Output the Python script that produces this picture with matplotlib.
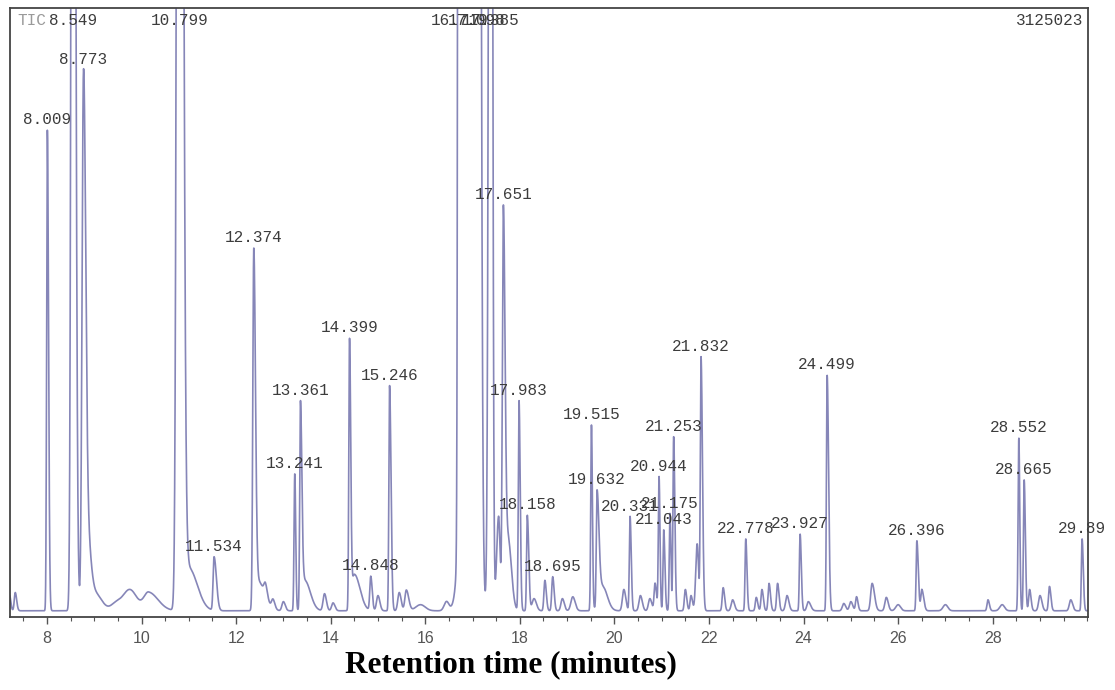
import numpy as np
import matplotlib
matplotlib.use("Agg")
import matplotlib.pyplot as plt
from matplotlib.ticker import MultipleLocator

# peaks: time (min), height (% of full scale),
# left / right width (sigma, min). heights > 100 are off scale.
peak_times = [7.20, 7.33, 8.009, 8.549, 8.773, 8.85, 9.0, 9.45, 9.75, 10.15,
              10.799, 11.0, 11.534, 12.374, 12.45, 12.62, 12.78, 13.0, 13.241, 13.361,
              13.45, 13.87, 14.05, 14.399, 14.5, 14.848, 15.0, 15.246, 15.45, 15.6,
              15.9, 16.45, 16.719, 17.098, 17.385, 17.55, 17.651, 17.75, 17.983, 18.158,
              18.3, 18.53, 18.695, 18.9, 19.12, 19.515, 19.632, 19.75, 20.2, 20.331,
              20.55, 20.75, 20.86, 20.944, 21.043, 21.175, 21.253, 21.5, 21.62, 21.75,
              21.832, 22.3, 22.5, 22.778, 23.0, 23.12, 23.27, 23.45, 23.65, 23.927,
              24.1, 24.499, 24.85, 25.0, 25.12, 25.45, 25.75, 26.0, 26.396, 26.5,
              27.0, 27.9, 28.2, 28.552, 28.665, 28.78, 29.0, 29.2, 29.65, 29.89]
peak_heights = [3.0, 3.0, 79, 300, 85, 12, 3, 1.0, 3.5, 3.0,
                400, 7, 8.8, 58, 5, 2.0, 1.5, 1.5, 22.5, 33.5,
                5, 2.8, 1.3, 44, 6, 5.6, 2.5, 37, 3.0, 3.4,
                1.0, 1.5, 500, 500, 300, 15, 61, 12, 34.5, 15.7,
                2.0, 5.0, 5.6, 2.0, 2.3, 30.5, 18.5, 4, 3.5, 15.5,
                2.5, 2.0, 4.5, 22.0, 13.3, 16.0, 28.6, 3.5, 2.5, 11,
                41.5, 3.8, 1.8, 11.8, 2.2, 3.5, 4.5, 4.5, 2.5, 12.6,
                1.5, 38.7, 1.2, 1.5, 2.3, 4.5, 2.2, 1.0, 11.5, 3.5,
                1.0, 1.8, 1.0, 28.4, 21.5, 3.5, 2.5, 4.0, 1.8, 11.8]
sigma_left = [0.02, 0.02, 0.015, 0.03, 0.03, 0.05, 0.1, 0.1, 0.15, 0.1,
              0.04, 0.1, 0.02, 0.02, 0.05, 0.03, 0.03, 0.03, 0.015, 0.015,
              0.05, 0.03, 0.03, 0.015, 0.05, 0.02, 0.03, 0.015, 0.03, 0.03,
              0.1, 0.05, 0.02, 0.15, 0.035, 0.04, 0.02, 0.08, 0.015, 0.015,
              0.04, 0.02, 0.02, 0.03, 0.04, 0.015, 0.015, 0.08, 0.03, 0.015,
              0.03, 0.03, 0.02, 0.015, 0.015, 0.015, 0.015, 0.02, 0.02, 0.03,
              0.015, 0.02, 0.03, 0.015, 0.02, 0.02, 0.02, 0.02, 0.03, 0.015,
              0.03, 0.015, 0.03, 0.03, 0.02, 0.03, 0.03, 0.05, 0.015, 0.02,
              0.05, 0.02, 0.05, 0.015, 0.015, 0.02, 0.03, 0.02, 0.03, 0.015]
sigma_right = [0.03, 0.03, 0.025, 0.045, 0.045, 0.07, 0.15, 0.1, 0.15, 0.2,
               0.06, 0.18, 0.05, 0.035, 0.15, 0.04, 0.04, 0.04, 0.02, 0.03,
               0.12, 0.04, 0.04, 0.025, 0.12, 0.03, 0.04, 0.03, 0.04, 0.05,
               0.1, 0.05, 0.15, 0.05, 0.03, 0.03, 0.035, 0.07, 0.025, 0.03,
               0.05, 0.03, 0.03, 0.04, 0.05, 0.02, 0.04, 0.1, 0.04, 0.025,
               0.04, 0.04, 0.03, 0.02, 0.025, 0.02, 0.025, 0.03, 0.03, 0.03,
               0.03, 0.03, 0.04, 0.025, 0.03, 0.03, 0.03, 0.03, 0.04, 0.025,
               0.05, 0.03, 0.04, 0.04, 0.03, 0.05, 0.04, 0.05, 0.03, 0.04,
               0.05, 0.03, 0.05, 0.02, 0.025, 0.03, 0.04, 0.03, 0.04, 0.025]
baseline = 1.0

label_times = [8.009, 8.549, 8.773, 10.799, 11.534, 12.374, 13.241, 13.361, 14.399,
               14.848, 15.246, 16.719, 17.098, 17.385, 17.651, 17.983, 18.158, 18.695,
               19.515, 19.632, 20.331, 20.944, 21.043, 21.175, 21.253, 21.832, 22.778,
               23.927, 24.499, 26.396, 28.552, 28.665, 29.89]
label_texts = ["8.009", "8.549", "8.773", "10.799", "11.534", "12.374", "13.241",
               "13.361", "14.399", "14.848", "15.246", "16.719", "17.098", "17.385",
               "17.651", "17.983", "18.158", "18.695", "19.515", "19.632", "20.331",
               "20.944", "21.043", "21.175", "21.253", "21.832", "22.778", "23.927",
               "24.499", "26.396", "28.552", "28.665", "29.89"]
tick_values = [8, 10, 12, 14, 16, 18, 20, 22, 24, 26, 28]

x_min, x_max = 7.22, 30.02
t = np.linspace(x_min, x_max, 12000)


def trace_at(x):
    y = np.full_like(x, baseline, dtype=float)
    for c, h, sl, sr in zip(peak_times, peak_heights, sigma_left, sigma_right):
        s = np.where(x < c, sl, sr)
        y += h * np.exp(-0.5 * ((x - c) / s) ** 2)
    return y


signal = trace_at(t)

fig = plt.figure(figsize=(11.15, 6.9), dpi=100)
ax = fig.add_axes([0.009, 0.106, 0.967, 0.882])
ax.plot(t, signal, color="#8686b8", lw=1.2)
ax.set_xlim(x_min, x_max)
ax.set_ylim(0, 100)

mono = dict(family="Liberation Mono", fontsize=11.5, color="#3c3c3c")
apex = trace_at(np.array(label_times))
for lt, txt, h in zip(label_times, label_texts, apex):
    if h >= 100:
        ax.text(lt, 99.3, txt, ha="center", va="top", clip_on=False, **mono)
    else:
        ax.annotate(txt, (lt, h), xytext=(0, 2), textcoords="offset points",
                    ha="center", va="bottom", annotation_clip=False, **mono)

ax.text(0.007, 0.993, "TIC", transform=ax.transAxes, ha="left", va="top",
        family="Liberation Mono", fontsize=11.5, color="#9a9a9a")
ax.text(0.995, 0.993, "3125023", transform=ax.transAxes, ha="right", va="top", **mono)

ax.set_xticks(tick_values)
ax.xaxis.set_minor_locator(MultipleLocator(0.5))
ax.set_yticks([])
ax.tick_params(axis="x", which="major", direction="out", length=5, width=1,
               colors="#555555", labelsize=11.5, pad=5)
ax.tick_params(axis="x", which="minor", direction="out", length=3, width=0.8,
               colors="#555555")
for lab in ax.get_xticklabels():
    lab.set_family("Liberation Sans")
for sp in ax.spines.values():
    sp.set_color("#444444")
    sp.set_linewidth(1.3)

fig.text(0.458, 0.036, "Retention time (minutes)", ha="center", va="center",
         family="Liberation Serif", fontweight="bold", fontsize=22.5)

fig.savefig("out.png", dpi=100)
